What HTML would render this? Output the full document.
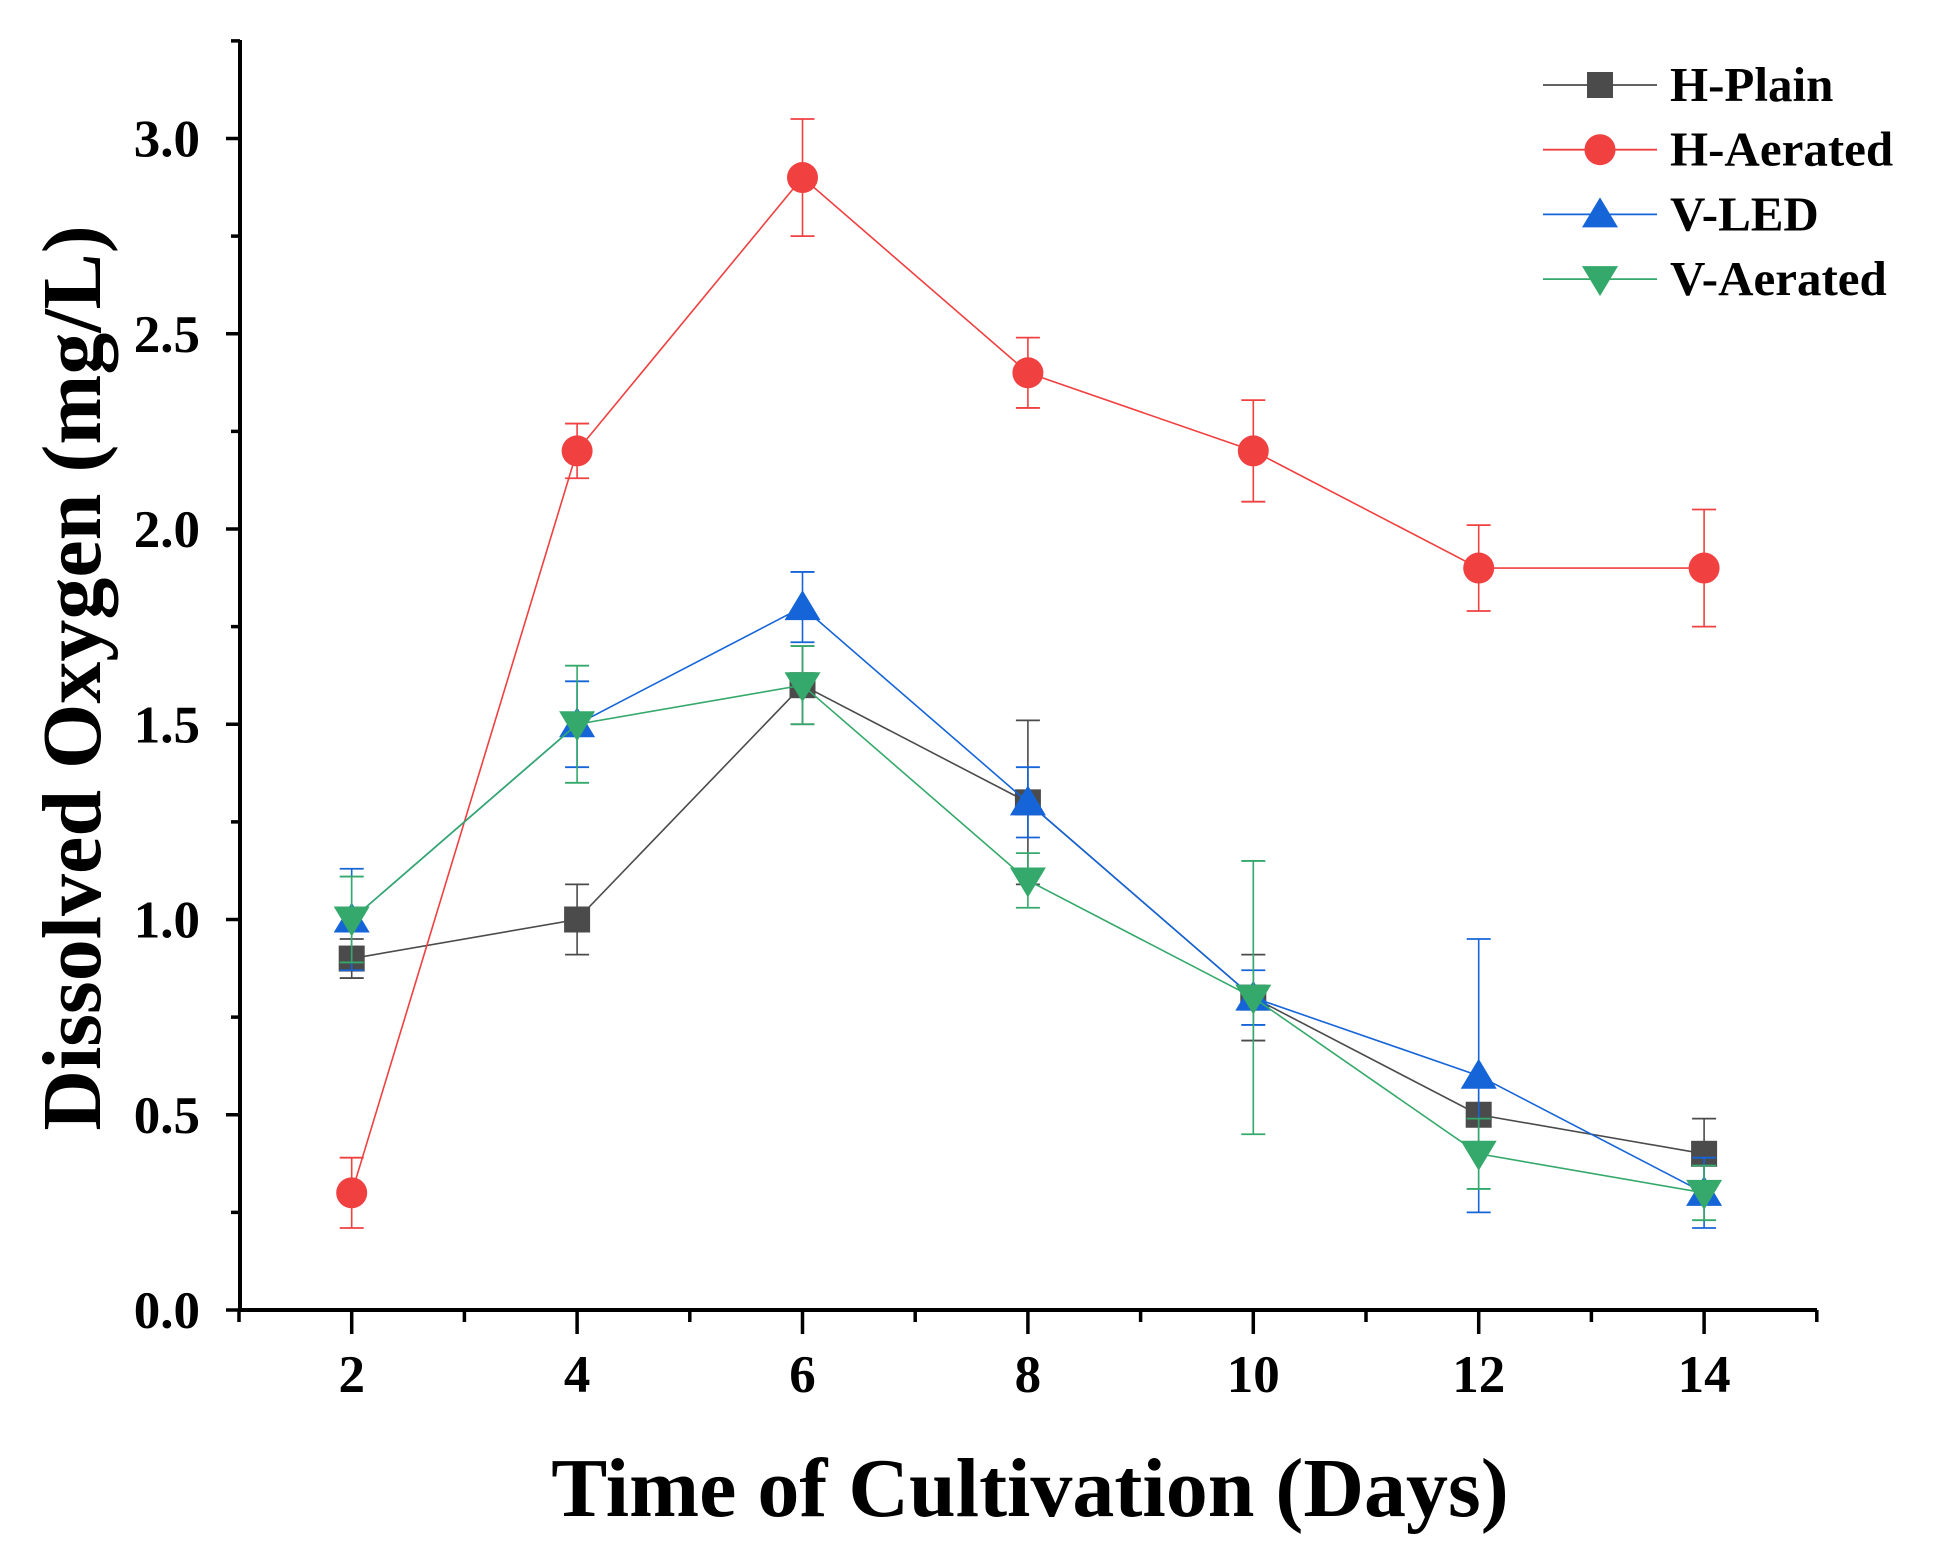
<!DOCTYPE html>
<html><head><meta charset="utf-8"><style>
html,body{margin:0;padding:0;background:#fff;}
svg{display:block;font-family:"Liberation Serif",serif;font-weight:bold;}
</style></head><body>
<svg id="chart" width="1935" height="1560" xmlns="http://www.w3.org/2000/svg"></svg>
<script>
const days = [2,4,6,8,10,12,14];
const seriesNames = ["H-Plain","H-Aerated","V-LED","V-Aerated"];
const hPlain = [0.9,1.0,1.6,1.3,0.8,0.5,0.4];
const hPlainErr = [0.05,0.09,0.1,0.21,0.11,0.09,0.09];
const hAerated = [0.3,2.2,2.9,2.4,2.2,1.9,1.9];
const hAeratedErr = [0.09,0.07,0.15,0.09,0.13,0.11,0.15];
const vLed = [1.0,1.5,1.8,1.3,0.8,0.6,0.3];
const vLedErr = [0.13,0.11,0.09,0.09,0.07,0.35,0.09];
const vAerated = [1.0,1.5,1.6,1.1,0.8,0.4,0.3];
const vAeratedErr = [0.11,0.15,0.1,0.07,0.35,0.09,0.07];
const yTicks = [0,0.5,1,1.5,2,2.5,3];
const yTickLabels = ["0.0","0.5","1.0","1.5","2.0","2.5","3.0"];
const xTicks = [2,4,6,8,10,12,14];
const xTickLabels = ["2","4","6","8","10","12","14"];

const svg = document.getElementById('chart');
const NS = "http://www.w3.org/2000/svg";
const X = v => 239 + (v-1)*112.7;
const Y = v => 1310 - v*390.5;
function mk(tag, attrs, parent){
  const e = document.createElementNS(NS, tag);
  for (const k in attrs) e.setAttribute(k, attrs[k]);
  (parent||svg).appendChild(e);
  return e;
}
const axes = mk('g',{});


mk('line',{x1:240,y1:40,x2:240,y2:1312,stroke:'#000','stroke-width':4},axes);
mk('line',{x1:238,y1:1310,x2:1817,y2:1310,stroke:'#000','stroke-width':4},axes);
for (let v=0; v<=3.25; v+=0.25){
  const major = Math.abs(v*2-Math.round(v*2))<1e-6;
  mk('line',{x1:240-(major?14:9),y1:Y(v),x2:240,y2:Y(v),stroke:'#000','stroke-width':3.5},axes);
}
for (let v=1; v<=15; v+=1){
  const major = v%2===0;
  mk('line',{x1:X(v),y1:1310,x2:X(v),y2:1310+(major?24:12),stroke:'#000','stroke-width':3.5},axes);
}
yTicks.forEach((v,i)=>{
  const t = mk('text',{x:200,y:Y(v)+18,'text-anchor':'end','font-size':53},axes);
  
  
  t.textContent = yTickLabels[i];
});
xTicks.forEach((v,i)=>{
  const t = mk('text',{x:X(v),y:1392,'text-anchor':'middle','font-size':53},axes);
  
  
  t.textContent = xTickLabels[i];
});
const xt = mk('text',{x:1030,y:1516,'text-anchor':'middle','font-size':84});


xt.textContent = 'Time of Cultivation (Days)';
const yt = mk('text',{x:0,y:0,'text-anchor':'middle','font-size':84,transform:'translate(100,678) rotate(-90)'});


yt.textContent = 'Dissolved Oxygen (mg/L)';

function marker(g, shape, cx, cy, color){
  if (shape==='square') mk('rect',{x:cx-13,y:cy-13,width:26,height:26,fill:color},g);
  else if (shape==='circle') mk('circle',{cx:cx,cy:cy,r:15.5,fill:color},g);
  else if (shape==='up') mk('polygon',{points:`${cx},${cy-17} ${cx-18},${cy+13} ${cx+18},${cy+13}`,fill:color},g);
  else mk('polygon',{points:`${cx},${cy+17} ${cx-18},${cy-13} ${cx+18},${cy-13}`,fill:color},g);
}
const series = [
  {vals:hPlain, err:hPlainErr, color:'#4b4b4b', shape:'square', key:'h-plain'},
  {vals:hAerated, err:hAeratedErr, color:'#f04040', shape:'circle', key:'h-aerated'},
  {vals:vLed, err:vLedErr, color:'#1565d8', shape:'up', key:'v-led'},
  {vals:vAerated, err:vAeratedErr, color:'#35a96b', shape:'down', key:'v-aerated'}
];
series.forEach((s,si)=>{
  const g = mk('g',{});
  
  
  const pts = days.map((d,i)=>X(d)+','+Y(s.vals[i])).join(' ');
  mk('polyline',{points:pts,fill:'none',stroke:s.color,'stroke-width':1.6},g);
  days.forEach((d,i)=>{
    const cx=X(d), hi=Y(s.vals[i]+s.err[i]), lo=Y(s.vals[i]-s.err[i]);
    mk('line',{x1:cx,y1:hi,x2:cx,y2:lo,stroke:s.color,'stroke-width':1.6},g);
    mk('line',{x1:cx-12,y1:hi,x2:cx+12,y2:hi,stroke:s.color,'stroke-width':1.8},g);
    mk('line',{x1:cx-12,y1:lo,x2:cx+12,y2:lo,stroke:s.color,'stroke-width':1.8},g);
  });
  days.forEach((d,i)=>{
    const pg = mk('g',{},g);
    
    
    marker(pg, s.shape, X(d), Y(s.vals[i]), s.color);
  });
  const ly = 85 + si*64.7;
  const lg = mk('g',{});
  
  
  mk('line',{x1:1543,y1:ly,x2:1657,y2:ly,stroke:s.color,'stroke-width':1.8},lg);
  marker(lg, s.shape, 1600, ly, s.color);
  const t = mk('text',{x:1670,y:ly+16,'font-size':49},lg);
  t.textContent = seriesNames[si];
});
</script>
</body></html>
